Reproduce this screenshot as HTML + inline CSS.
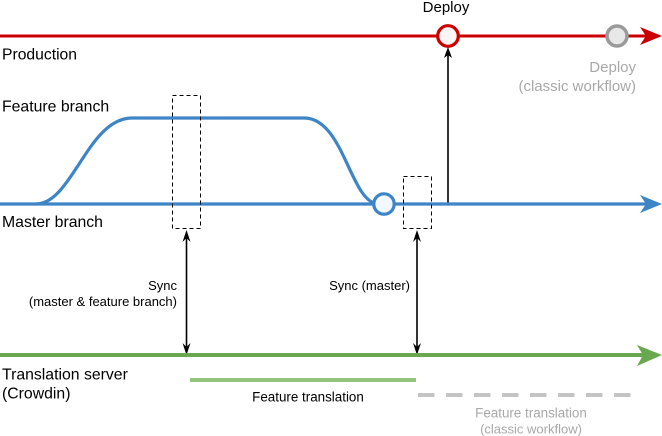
<!DOCTYPE html>
<html><head><meta charset="utf-8"><style>
html,body{margin:0;padding:0;background:#fff;}
svg{display:block;}
text{font-family:"Liberation Sans",Arial,sans-serif;}
</style></head><body>
<svg width="662" height="436" viewBox="0 0 662 436" xmlns="http://www.w3.org/2000/svg">
<!-- Production -->
<line x1="0" y1="36" x2="648" y2="36" stroke="#cc0000" stroke-width="3"/>
<polygon points="662,36 640,27 646,36 640,45" fill="#cc0000"/>
<circle cx="617" cy="36" r="10" fill="#e8e8e8" stroke="#9a9a9a" stroke-width="3.5"/>
<!-- Deploy arrow -->
<line x1="448" y1="204" x2="448" y2="52" stroke="#000" stroke-width="1.6"/>
<polygon points="448,47 444,58 448,55 452,58" fill="#000"/>
<circle cx="448" cy="36" r="10.3" fill="#fdf6f6" stroke="#cc0000" stroke-width="3.2"/>
<text x="446" y="12" font-size="15" text-anchor="middle" fill="#000">Deploy</text>
<text x="636" y="72" font-size="15" text-anchor="end" fill="#a8a8a8">Deploy</text>
<text x="636" y="91" font-size="15" text-anchor="end" fill="#a8a8a8">(classic workflow)</text>
<text x="2" y="59.5" font-size="15.7" fill="#000">Production</text>

<!-- Feature branch -->
<path d="M36,204 C72,204 88,118 132,118 L304,118 C344,118 350,202 378,204" fill="none" stroke="#3d85c6" stroke-width="3.2"/>
<text x="2" y="111.5" font-size="15.8" fill="#000">Feature branch</text>

<!-- Master -->
<line x1="0" y1="204" x2="648" y2="204" stroke="#3d85c6" stroke-width="3.2"/>
<polygon points="662,204 640,195 646,204 640,213" fill="#3d85c6"/>
<circle cx="384" cy="204" r="10.2" fill="#f2f8fd" stroke="#3d85c6" stroke-width="3.2"/>
<text x="2" y="227" font-size="15.8" fill="#000">Master branch</text>

<!-- Dashed rects -->
<rect x="172.5" y="95.5" width="28" height="133" fill="none" stroke="#000" stroke-width="1" stroke-dasharray="4,3"/>
<rect x="403.5" y="176.5" width="28" height="52" fill="none" stroke="#000" stroke-width="1" stroke-dasharray="4,3"/>

<!-- Sync arrows -->
<line x1="186.5" y1="236" x2="186.5" y2="348" stroke="#000" stroke-width="1.6"/>
<polygon points="186.5,230 182.5,242 186.5,238 190.5,242" fill="#000"/>
<polygon points="186.5,355 182.5,343 186.5,347 190.5,343" fill="#000"/>
<line x1="417" y1="236" x2="417" y2="348" stroke="#000" stroke-width="1.6"/>
<polygon points="417,230 413,242 417,238 421,242" fill="#000"/>
<polygon points="417,355 413,343 417,347 421,343" fill="#000"/>
<text x="177" y="290" font-size="13" text-anchor="end" fill="#000">Sync</text>
<text x="177" y="306" font-size="13" text-anchor="end" fill="#000">(master &amp; feature branch)</text>
<text x="410" y="290" font-size="13" text-anchor="end" fill="#000">Sync (master)</text>

<!-- Translation server -->
<line x1="0" y1="355" x2="645" y2="355" stroke="#6aa84f" stroke-width="4"/>
<polygon points="662,355 637,345 643,355 637,366" fill="#6aa84f"/>
<text x="2" y="379.5" font-size="15.8" fill="#000">Translation server</text>
<text x="2" y="398.5" font-size="15.8" fill="#000">(Crowdin)</text>

<line x1="190" y1="380" x2="416" y2="380" stroke="#93c47d" stroke-width="4"/>
<text x="308" y="401.5" font-size="13.4" text-anchor="middle" fill="#000">Feature translation</text>

<line x1="418" y1="395" x2="631" y2="395" stroke="#c4c4c4" stroke-width="4" stroke-dasharray="16.5,11.5"/>
<text x="531" y="417.5" font-size="13.4" text-anchor="middle" fill="#a8a8a8">Feature translation</text>
<text x="531" y="433.5" font-size="13" text-anchor="middle" fill="#a8a8a8">(classic workflow)</text>
</svg>
</body></html>
